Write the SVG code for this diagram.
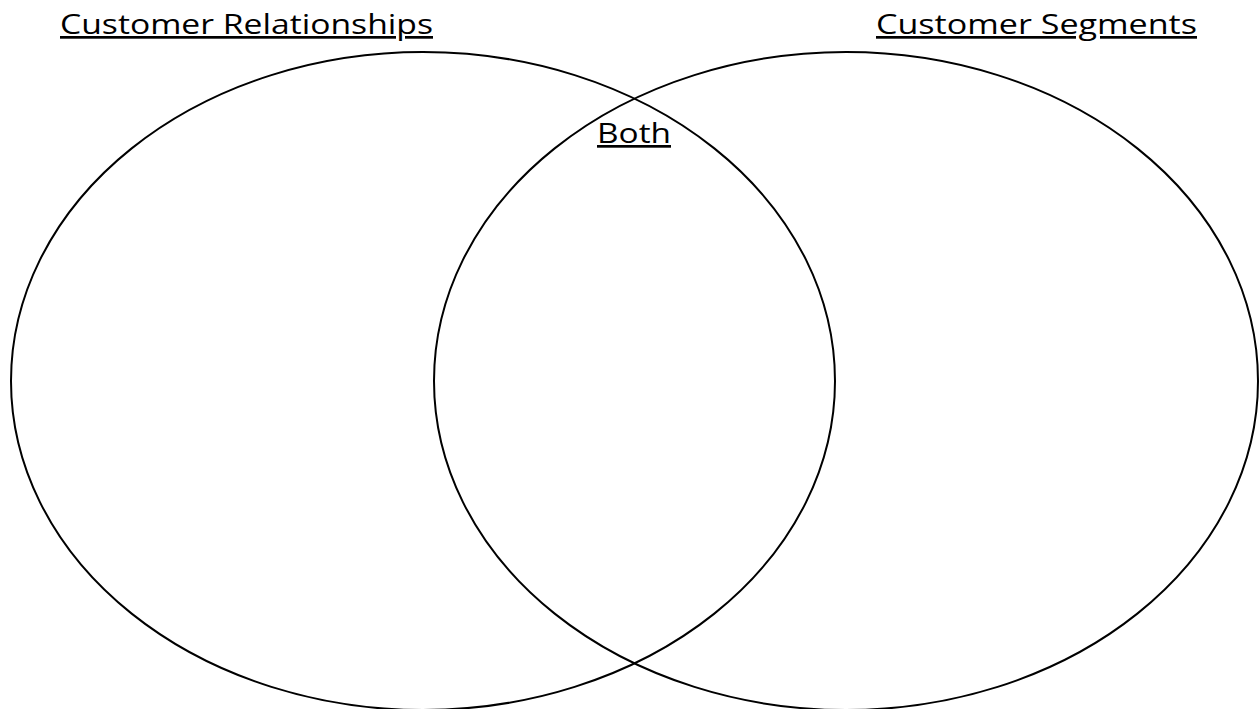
<svg xmlns="http://www.w3.org/2000/svg" width="1259" height="709" viewBox="0 0 1259 709">
<style>
.c{fill:none;stroke:#000;stroke-width:2}
.t{font-family:"Open Sans",Lato,"Liberation Sans",sans-serif;font-size:27px;font-weight:400;fill:#000;text-decoration:underline;font-variant-ligatures:none}
</style>
<rect width="1259" height="709" fill="#fff"/>
<g id="left-set"><ellipse class="c" cx="423" cy="381" rx="412" ry="329"/></g>
<g id="right-set"><ellipse class="c" cx="846" cy="381" rx="412" ry="329"/></g>
<g id="label-left"><text class="t" x="60" y="34" textLength="373" lengthAdjust="spacingAndGlyphs">Customer Relationships</text></g>
<g id="label-right"><text class="t" x="876" y="34" textLength="321" lengthAdjust="spacingAndGlyphs">Customer Segments</text></g>
<g id="label-both"><text class="t" x="597" y="143" textLength="74" lengthAdjust="spacingAndGlyphs">Both</text></g>
<g id="connectors"></g>
</svg>
